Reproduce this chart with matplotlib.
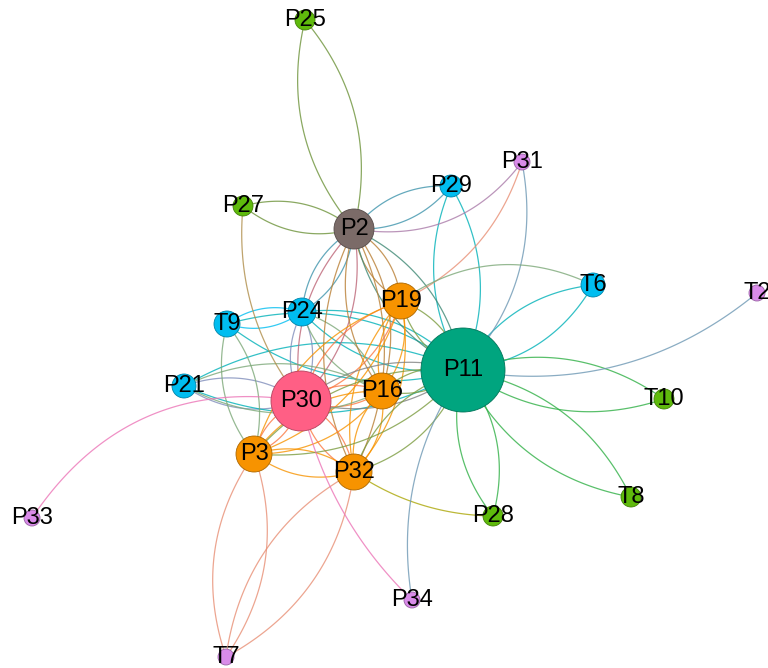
"""Co-occurrence network: nodes placed as in the reference layout, curved mutual edges."""
import numpy as np
import matplotlib
matplotlib.use("Agg")
import matplotlib.pyplot as plt
from matplotlib.patches import Circle
from matplotlib.colors import to_rgb

GREEN = "#5fba0c"
TEAL = "#00a57f"
PINK = "#ff5f85"
ORANGE = "#f79300"
CYAN = "#00bdf0"
VIOLET = "#d98be9"
BROWN = "#7b6b68"

# node: (x, y, radius, colour)  -- layout in pixel space
nodes = {
    "P25": (305, 20, 10, GREEN),
    "P31": (522, 162, 8, VIOLET),
    "P29": (451, 186, 11, CYAN),
    "P27": (243, 206, 10, GREEN),
    "P2": (354, 229, 20, BROWN),
    "T6": (593, 285, 12, CYAN),
    "T2": (757, 293, 8, VIOLET),
    "P19": (401, 301, 18, ORANGE),
    "P24": (302, 312, 14, CYAN),
    "T9": (227, 324, 13, CYAN),
    "P11": (463, 370, 42, TEAL),
    "P21": (184, 386, 12, CYAN),
    "P30": (301, 401, 30, PINK),
    "P16": (382, 391, 18, ORANGE),
    "T10": (664, 399, 10, GREEN),
    "P3": (254, 454, 18, ORANGE),
    "P32": (354, 472, 18, ORANGE),
    "T8": (631, 497, 10, GREEN),
    "P28": (493, 516, 10, GREEN),
    "P33": (32, 518, 8, VIOLET),
    "P34": (412, 600, 8, VIOLET),
    "T7": (226, 657, 8, VIOLET),
}

# mutual links, drawn as two arcs (lens)
mutual = [
    ("P25", "P2"), ("P27", "P2"), ("P29", "P2"),
    ("P29", "P11"), ("T6", "P11"),
    ("T10", "P11"), ("T8", "P11"), ("P28", "P11"),
    ("T7", "P3"), ("T7", "P32"),
    ("P21", "P30"), ("P21", "P11"), ("T9", "P24"), ("T9", "P11"), ("T9", "P3"),
    ("P24", "P2"), ("P24", "P30"), ("P24", "P11"), ("P24", "P16"), ("P2", "P30"),
    ("P2", "P19"), ("P2", "P16"), ("P2", "P11"), ("P2", "P32"), ("P19", "P30"),
    ("P19", "P16"), ("P19", "P32"), ("P19", "P3"), ("P19", "P11"), ("P16", "P30"),
    ("P16", "P11"), ("P16", "P32"), ("P16", "P3"), ("P30", "P11"), ("P30", "P32"),
    ("P30", "P3"), ("P3", "P32"), ("P3", "P11"), ("P32", "P11"), ("P21", "P16"),
]
# one-way links: (source, target, bend)
single = [
    ("T2", "P11", -0.23), ("P33", "P30", -0.32), ("P34", "P30", -0.15),
    ("P31", "P2", -0.3), ("P31", "P11", -0.25), ("P31", "P19", -0.22),
    ("T6", "P19", 0.29), ("P27", "P30", 0.2), ("P28", "P32", -0.15),
    ("P34", "P11", -0.2),
]

fig = plt.figure(figsize=(7.68, 6.68), dpi=100)
ax = fig.add_axes([0, 0, 1, 1])
ax.set_xlim(0, 768)
ax.set_ylim(668, 0)
ax.axis("off")

t = np.linspace(0, 1, 80)[:, None]


def arc(a, b, bend):
    xa, ya, _, ca = nodes[a]
    xb, yb, _, cb = nodes[b]
    p0 = np.array([xa, ya], float)
    p1 = np.array([xb, yb], float)
    d = p1 - p0
    perp = np.array([-d[1], d[0]])
    col = tuple((np.array(to_rgb(ca)) + np.array(to_rgb(cb))) / 2)
    ctrl = (p0 + p1) / 2 + bend * perp
    pts = (1 - t) ** 2 * p0 + 2 * (1 - t) * t * ctrl + t ** 2 * p1
    ax.plot(pts[:, 0], pts[:, 1], color=col, lw=0.9, alpha=0.8, zorder=1)


for a, b in mutual:
    arc(a, b, 0.25)
    arc(a, b, -0.25)
for a, b, bend in single:
    arc(a, b, bend)

for name, (x, y, r, c) in nodes.items():
    dark = tuple(np.array(to_rgb(c)) * 0.7)
    ax.add_patch(Circle((x, y), r, facecolor=c, edgecolor=dark, lw=0.6, zorder=2))
    ax.text(x, y, name, ha="center", va="center", fontsize=17,
            family="Liberation Sans", color="black", zorder=3)

fig.savefig("out.png", dpi=100)
